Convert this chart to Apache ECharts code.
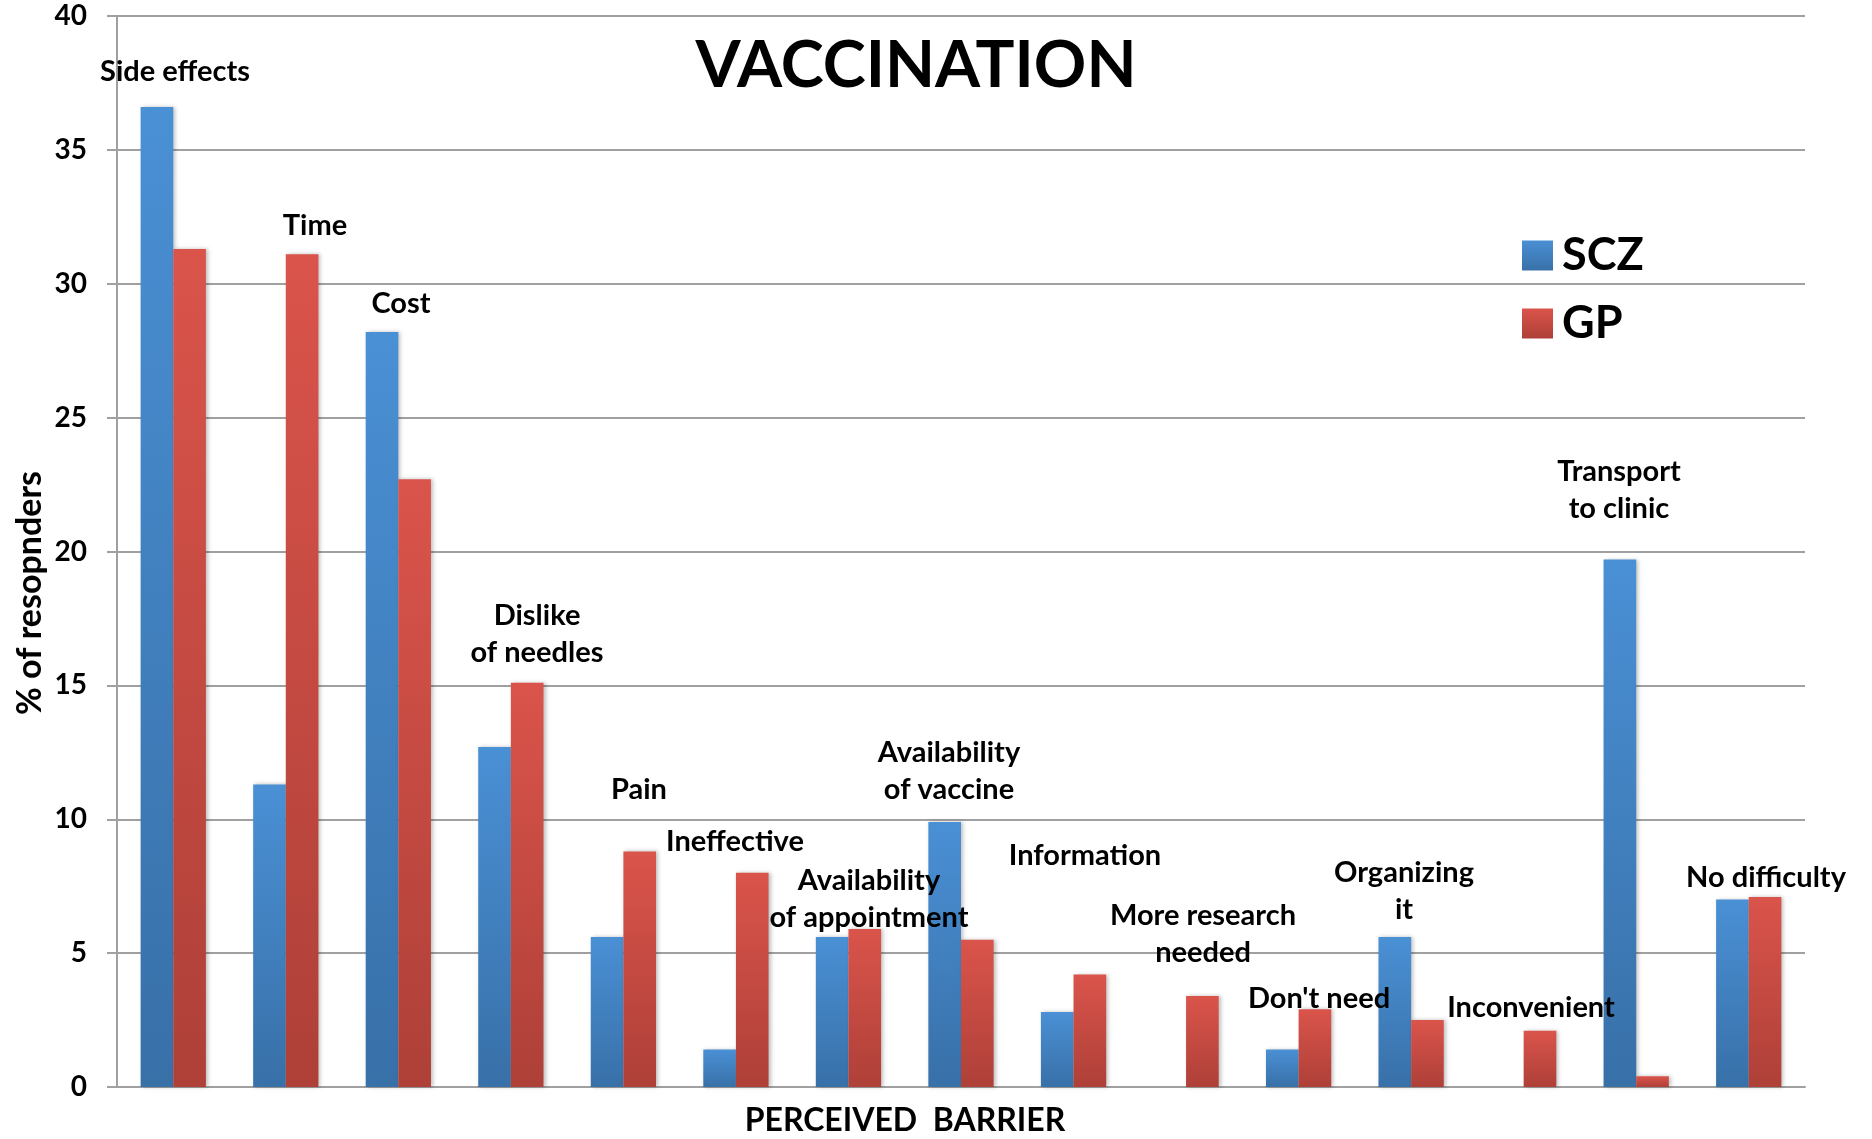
<!DOCTYPE html>
<html>
<head>
<meta charset="utf-8">
<script src="https://cdn.jsdelivr.net/npm/echarts@6/dist/echarts.min.js"></script>
<style>
  html, body { margin: 0; padding: 0; background: #fff; }
  #chart { width: 1872px; height: 1139px; }
</style>
</head>
<body>
<div id="chart"></div>
<script>
// Perceived barriers to vaccination, % of responders per group
const categories = [
  'Side effects', 'Time', 'Cost', 'Dislike\nof needles', 'Pain', 'Ineffective',
  'Availability\nof appointment', 'Availability\nof vaccine', 'Information',
  'More research\nneeded', "Don't need", 'Organizing\nit', 'Inconvenient',
  'Transport\nto clinic', 'No difficulty'
];
const sczValues = [36.6, 11.3, 28.2, 12.7, 5.6, 1.4, 5.6, 9.9, 2.8, 0, 1.4, 5.6, 0, 19.7, 7.0];
const gpValues  = [31.3, 31.1, 22.7, 15.1, 8.8, 8.0, 5.9, 5.5, 4.2, 3.4, 2.9, 2.5, 2.1, 0.4, 7.1];
const yTicks = [0, 5, 10, 15, 20, 25, 30, 35, 40];

// Where each barrier caption sits (centre x, centre y of its first line)
const captionPos = [
  [175, 72], [315, 226], [401, 304], [537, 616], [639, 790], [735, 842],
  [869, 881], [949, 753], [1085, 856], [1203, 916], [1319, 999], [1404, 873],
  [1531, 1008], [1619, 472], [1766, 878]
];

const FONT = 'Lato, "Open Sans", sans-serif';
const LINE_H = 37;

function grad(top, bottom) {
  return new echarts.graphic.LinearGradient(0, 0, 0, 1, [
    { offset: 0, color: top },
    { offset: 1, color: bottom }
  ]);
}

const chart = echarts.init(document.getElementById('chart'), null, { renderer: 'canvas' });

const captions = categories.map((name, i) => ({
  type: 'text',
  silent: true,
  z: 100,
  style: {
    text: name,
    x: captionPos[i][0],
    y: captionPos[i][1] - LINE_H / 2,
    align: 'center',
    verticalAlign: 'top',
    lineHeight: LINE_H,
    fontFamily: FONT,
    fontWeight: 'bold',
    fontSize: 29,
    fill: '#000'
  }
}));

const option = {
  animation: false,
  backgroundColor: '#fff',
  grid: { left: 117, right: 67, top: 16, bottom: 52, containLabel: false },
  legend: {
    orient: 'vertical',
    left: 1517,
    top: 228,
    icon: 'rect',
    itemWidth: 31,
    itemHeight: 30,
    itemGap: 23,
    textStyle: { fontFamily: FONT, fontWeight: 'bold', fontSize: 45, color: '#000', padding: [0, 0, 0, 4] },
    data: ['SCZ', 'GP']
  },
  xAxis: {
    type: 'category',
    data: categories,
    axisLine: { show: true, lineStyle: { color: '#a0a0a0', width: 2 } },
    axisTick: { show: false },
    axisLabel: { show: false },
    splitLine: { show: false }
  },
  yAxis: {
    type: 'value',
    min: yTicks[0],
    max: yTicks[yTicks.length - 1],
    interval: yTicks[1] - yTicks[0],
    axisLine: { show: true, lineStyle: { color: '#a0a0a0', width: 2 } },
    axisTick: { show: true, inside: false, length: 10, lineStyle: { color: '#a0a0a0', width: 2 } },
    axisLabel: {
      margin: 30,
      fontFamily: FONT,
      fontWeight: 'bold',
      fontSize: 28,
      color: '#000'
    },
    splitLine: { show: true, lineStyle: { color: '#a0a0a0', width: 2 } }
  },
  series: [
    {
      name: 'SCZ',
      type: 'bar',
      data: sczValues,
      barWidth: '29%',
      barGap: '0%',
      itemStyle: {
        color: grad('#4a90d5', '#3870a8'),
        shadowColor: 'rgba(0,0,0,0.25)',
        shadowBlur: 4,
        shadowOffsetX: 2
      }
    },
    {
      name: 'GP',
      type: 'bar',
      data: gpValues,
      barWidth: '29%',
      barGap: '0%',
      itemStyle: {
        color: grad('#da544b', '#ae4038'),
        shadowColor: 'rgba(0,0,0,0.25)',
        shadowBlur: 4,
        shadowOffsetX: 2
      }
    }
  ],
  graphic: [
    {
      type: 'text',
      silent: true,
      z: 100,
      style: {
        text: 'VACCINATION',
        x: 916,
        y: 66,
        align: 'center',
        verticalAlign: 'middle',
        fontFamily: FONT,
        fontWeight: 'bold',
        fontSize: 65,
        fill: '#000'
      }
    },
    {
      type: 'text',
      silent: true,
      z: 100,
      x: 30,
      y: 593,
      rotation: Math.PI / 2,
      style: {
        text: '% of resopnders',
        x: 0,
        y: 0,
        align: 'center',
        verticalAlign: 'middle',
        fontFamily: FONT,
        fontWeight: 'bold',
        fontSize: 34,
        fill: '#000'
      }
    },
    {
      type: 'text',
      silent: true,
      z: 100,
      style: {
        text: 'PERCEIVED  BARRIER',
        x: 905,
        y: 1121,
        align: 'center',
        verticalAlign: 'middle',
        fontFamily: FONT,
        fontWeight: 'bold',
        fontSize: 32,
        fill: '#000'
      }
    }
  ].concat(captions)
};

chart.setOption(option);
</script>
</body>
</html>
